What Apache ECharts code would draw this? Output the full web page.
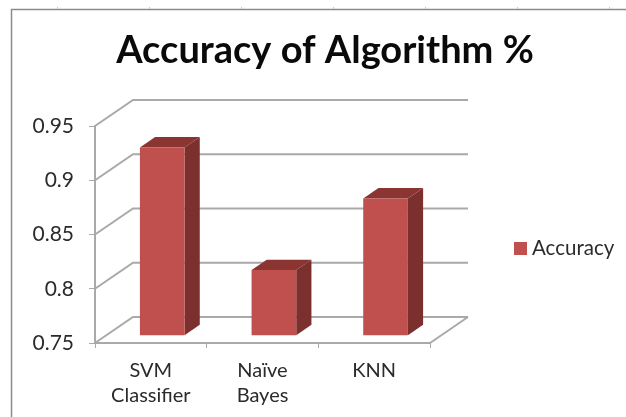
<!DOCTYPE html>
<html>
<head>
<meta charset="utf-8">
<style>
  html, body { margin: 0; padding: 0; background: #fff; }
  #chart { width: 626px; height: 417px; }
</style>
<script src="https://cdn.jsdelivr.net/npm/echarts@6/dist/echarts.min.js"></script>
</head>
<body>
<div id="chart"></div>
<script>
const categories = ['SVM\nClassifier', 'Naïve\nBayes', 'KNN']
const accuracy = [0.923, 0.81, 0.876]
const yTicks = [0.75, 0.8, 0.85, 0.9, 0.95]

// depth of the fake 3d box, in pixels
const wallDx = 38
const wallDy = 26
const barOffset = 0.3
const barDepth = 0.4

const gridColor = '#a9a9a9'
const textColor = '#2b2b2b'
const fontFamily = 'Lato, "Open Sans", sans-serif'

function renderWall(params, api) {
  const box = params.coordSys
  const y = api.coord([0, api.value(1)])[1]
  const left = box.x
  const right = box.x + box.width
  const children = [{
    type: 'polyline',
    shape: { points: [[left, y], [left + wallDx, y - wallDy], [right + wallDx, y - wallDy]] },
    style: { fill: null, stroke: gridColor, lineWidth: 2 }
  }]
  // floor edge on the right, only for the lowest line
  if (params.dataIndex === 0) {
    children.push({
      type: 'line',
      shape: { x1: right, y1: y, x2: right + wallDx, y2: y - wallDy },
      style: { stroke: gridColor, lineWidth: 2 }
    })
  }
  return { type: 'group', children }
}

function renderBar(params, api) {
  const top = api.coord([api.value(0), api.value(1)])
  const base = api.coord([api.value(0), yTicks[0]])
  const width = api.size([1, 0])[0] * 0.4
  const ox = wallDx * barOffset
  const oy = wallDy * barOffset
  const dx = wallDx * barDepth
  const dy = wallDy * barDepth
  const x1 = top[0] - width / 2 + ox
  const x2 = x1 + width
  const y1 = top[1] - oy
  const y2 = base[1] - oy
  return {
    type: 'group',
    children: [
      {
        type: 'polygon',
        shape: { points: [[x2, y1], [x2 + dx, y1 - dy], [x2 + dx, y2 - dy], [x2, y2]] },
        style: { fill: '#7b302e' }
      },
      {
        type: 'polygon',
        shape: { points: [[x1, y1], [x1 + dx, y1 - dy], [x2 + dx, y1 - dy], [x2, y1]] },
        style: { fill: '#8b3533' }
      },
      {
        type: 'rect',
        shape: { x: x1, y: y1, width: x2 - x1, height: y2 - y1 },
        style: { fill: '#c0504d' }
      }
    ]
  }
}

// frame of the pasted chart, plus the small marks above its top edge
const frameMarks = [57, 149, 241, 333, 425, 517, 609].map((x) => ({
  type: 'line',
  silent: true,
  shape: { x1: x + 0.5, y1: 7, x2: x + 0.5, y2: 9 },
  style: { stroke: '#c8c8c8', lineWidth: 1 }
}))

const option = {
  backgroundColor: '#fff',
  animation: false,
  textStyle: { fontFamily },
  title: {
    text: 'Accuracy of Algorithm %',
    left: 320,
    top: 27,
    textAlign: 'center',
    textStyle: { fontFamily, fontSize: 38, fontWeight: 'bold', color: '#0a0a0a' }
  },
  legend: {
    data: ['Accuracy'],
    left: 509,
    top: 233,
    icon: 'rect',
    itemWidth: 13,
    itemHeight: 13,
    itemGap: 6,
    textStyle: { fontFamily, fontSize: 20.5, color: textColor }
  },
  grid: { left: 95, top: 126, width: 335, height: 217 },
  xAxis: {
    type: 'category',
    data: categories,
    axisLine: { lineStyle: { color: gridColor, width: 2 } },
    axisTick: { show: true, length: 5, alignWithLabel: false, lineStyle: { color: gridColor, width: 1 } },
    axisLabel: { color: textColor, fontSize: 20, lineHeight: 25, margin: 15 }
  },
  yAxis: {
    type: 'value',
    min: 0.75,
    max: 0.95,
    interval: 0.05,
    splitLine: { show: false },
    axisLine: { show: true, lineStyle: { color: gridColor, width: 2 } },
    axisTick: { show: true, length: 6, lineStyle: { color: gridColor, width: 1 } },
    axisLabel: { color: textColor, fontSize: 21, margin: 21 }
  },
  series: [
    {
      name: 'walls',
      type: 'custom',
      z: 1,
      clip: false,
      renderItem: renderWall,
      encode: { x: 0, y: 1 },
      data: yTicks.map((v) => [0, v])
    },
    {
      name: 'Accuracy',
      type: 'custom',
      z: 3,
      clip: false,
      itemStyle: { color: '#c0504d' },
      renderItem: renderBar,
      encode: { x: 0, y: 1 },
      data: accuracy.map((v, i) => [i, v])
    }
  ],
  graphic: [
    {
      type: 'polyline',
      silent: true,
      shape: { points: [[11.5, 417], [11.5, 9.5], [626, 9.5]] },
      style: { fill: null, stroke: '#8c8c8c', lineWidth: 1.5 }
    },
    ...frameMarks
  ]
}

const myChart = echarts.init(document.getElementById('chart'))
myChart.setOption(option)
window.addEventListener('resize', () => {
  myChart.resize()
})
</script>
</body>
</html>
